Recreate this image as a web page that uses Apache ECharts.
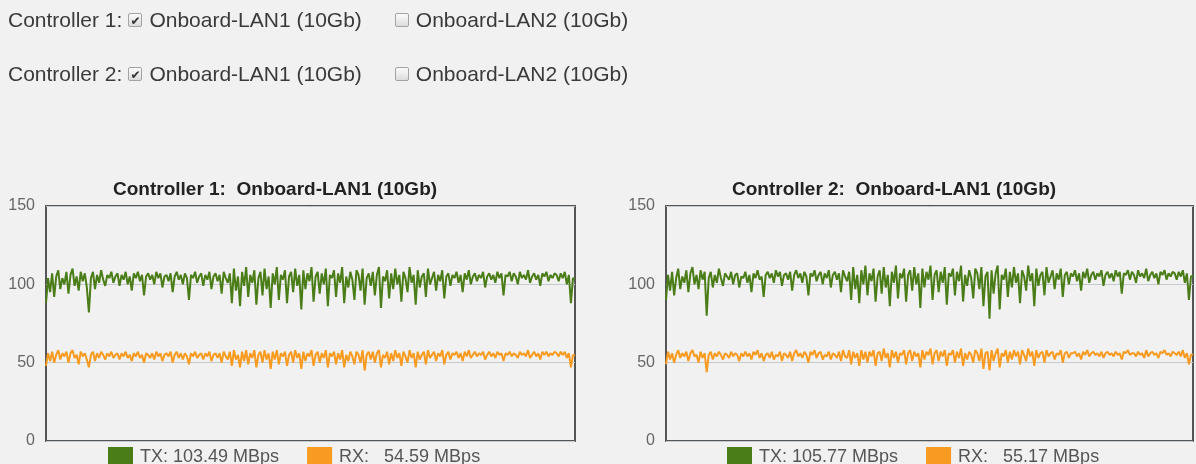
<!DOCTYPE html>
<html>
<head>
<meta charset="utf-8">
<script src="https://cdn.jsdelivr.net/npm/echarts@6/dist/echarts.min.js"></script>
<style>
  html, body { margin: 0; padding: 0; background: #f1f1f1; }
  body { width: 1196px; height: 464px; position: relative; overflow: hidden;
         font-family: "Liberation Sans", Arial, sans-serif; }
  #chart { position: absolute; left: 0; top: 0; width: 1196px; height: 464px; }
  .row { position: absolute; left: 8px; font-size: 21px; color: #3a3a3a; line-height: 22px; white-space: pre; z-index: 2; }
  .box { display: inline-block; width: 12px; height: 12px; border: 1px solid #a3a3a3; border-radius: 2px;
         background: linear-gradient(#fbfbfb, #dcdcdc); vertical-align: 0px; margin: 0 7px 0 6px;
         position: relative; }
  .box.on::after { content: "\2714"; position: absolute; left: 1px; top: -4px; font-size: 12px; color: #333;
         font-family: "DejaVu Sans", sans-serif; }
  .gap { display: inline-block; width: 27px; }
</style>
</head>
<body>
<div class="row" id="row1" style="top:9px"></div>
<div class="row" id="row2" style="top:63px"></div>
<div id="chart"></div>
<script>
// Port selector rows
const controllers = ['Controller 1', 'Controller 2'];
const ports = ['Onboard-LAN1 (10Gb)', 'Onboard-LAN2 (10Gb)'];
const portChecked = [[true, false], [true, false]];

// Y axis ticks (MBps)
const yTicks = [0, 50, 100, 150];

// Controller 1 throughput samples (MBps)
const c1Tx = [
  88,104,95,107,92,105,109,97,104,100,
  108,94,106,110,99,105,96,108,102,107,
  98,82,104,108,97,106,101,109,103,99,
  106,104,108,101,105,107,99,106,103,108,
  100,105,96,107,104,108,102,106,93,105,
  107,103,106,100,108,104,107,98,105,106,
  102,107,95,105,108,103,106,100,107,104,
  90,106,104,108,101,105,107,99,106,103,
  108,97,105,107,102,106,94,108,104,101,
  107,88,110,96,105,86,108,99,111,92,
  106,101,109,87,104,108,93,110,97,105,
  85,107,100,111,90,106,103,109,88,105,
  108,95,110,99,106,84,109,97,107,102,
  111,89,105,108,94,107,100,110,86,106,
  104,109,92,107,101,111,88,105,98,108,
  103,90,109,106,96,110,87,104,107,99,
  108,93,106,111,85,105,102,109,91,107,
  97,110,100,106,89,108,104,95,111,101,
  106,87,109,98,105,107,92,110,100,104,
  108,96,106,102,109,91,105,107,99,106,
  104,108,101,106,95,107,103,109,100,105,
  107,102,106,104,108,98,105,107,103,106,
  101,108,104,107,93,106,105,108,102,107,
  105,100,108,104,106,103,109,101,105,107,
  103,106,99,107,105,108,102,106,104,107,
  106,102,107,104,108,100,106,88,104,103.49
];
const c1Rx = [
  48,56,51,57,50,55,58,52,56,54,
  57,50,56,58,53,55,49,57,54,56,
  52,47,55,57,51,56,53,57,55,52,
  56,54,57,53,55,56,52,56,54,57,
  53,55,51,56,54,57,53,55,50,56,
  55,53,56,52,57,54,56,51,55,56,
  54,57,50,55,57,53,56,52,56,54,
  49,56,54,57,53,55,56,52,56,54,
  57,51,55,56,53,56,50,57,54,52,
  57,48,58,52,55,47,57,51,58,49,
  56,53,58,47,55,57,50,58,52,56,
  46,57,52,58,49,56,54,57,48,55,
  57,50,58,53,56,46,57,51,56,54,
  58,48,55,57,50,56,53,58,47,56,
  54,57,49,56,52,58,47,55,51,57,
  54,49,57,55,50,58,45,55,57,52,
  57,50,56,58,47,55,53,57,49,56,
  51,58,53,56,48,57,54,50,58,53,
  56,47,57,52,55,57,49,58,53,55,
  57,51,56,54,58,49,55,57,52,56,
  55,57,53,56,51,57,54,58,53,55,
  57,54,56,55,57,52,55,57,54,56,
  53,57,55,56,51,56,55,57,54,56,
  55,53,57,55,56,54,58,53,55,57,
  54,56,52,57,55,57,54,56,55,57,
  56,54,57,55,57,53,56,47,55,54.59
];

// Controller 2 throughput samples (MBps)
const c2Tx = [
  90,106,96,108,93,104,110,97,105,101,
  109,95,107,111,100,106,97,109,103,108,
  80,104,108,98,106,101,110,104,99,107,
  105,103,108,100,106,107,98,105,104,108,
  101,106,95,107,104,109,103,105,92,106,
  108,104,107,101,109,105,108,99,106,107,
  103,108,96,106,109,104,107,101,108,105,
  93,107,105,109,102,106,108,100,107,104,
  109,98,106,108,103,107,95,109,105,102,
  108,90,111,97,106,88,109,100,112,93,
  107,102,110,89,105,109,94,111,98,106,
  86,108,101,112,91,107,104,110,89,106,
  109,96,111,100,107,85,110,98,108,103,
  112,90,106,109,95,108,101,111,87,107,
  105,110,93,108,102,112,89,106,99,109,
  104,91,110,107,97,111,86,105,108,78,
  109,94,107,112,84,106,103,110,92,108,
  98,111,101,107,88,109,105,96,112,102,
  107,86,110,99,106,108,93,111,101,105,
  109,97,107,103,110,92,106,108,100,107,
  105,109,102,107,96,108,104,110,101,106,
  108,103,107,105,109,99,106,108,104,107,
  102,109,105,108,94,107,106,109,103,108,
  106,101,109,105,107,104,110,102,106,108,
  104,107,100,108,106,109,103,107,105,108,
  107,103,108,105,109,101,107,90,105,105.77
];
const c2Rx = [
  49,57,52,56,50,55,58,53,56,54,
  57,51,56,58,54,55,50,57,53,56,
  44,55,57,52,56,54,57,55,52,56,
  55,53,57,54,56,55,51,56,54,57,
  54,56,52,57,55,58,53,56,51,55,
  56,53,57,52,55,54,57,51,56,55,
  53,57,51,56,58,54,56,53,57,55,
  50,57,55,58,53,56,57,52,55,54,
  57,52,56,55,53,57,51,58,54,53,
  58,49,57,53,56,48,58,52,57,50,
  57,54,58,48,56,57,51,59,53,56,
  47,58,53,57,50,56,55,58,49,56,
  58,51,57,54,56,47,58,52,57,55,
  59,49,56,58,51,57,54,58,48,56,
  55,58,50,57,53,59,48,56,52,57,
  55,50,58,56,51,59,46,56,57,45,
  58,51,56,59,47,56,54,58,50,57,
  52,58,54,57,49,58,55,51,59,54,
  57,48,58,53,56,57,50,58,54,56,
  57,52,56,55,58,50,56,57,53,56,
  56,57,54,56,52,57,55,58,54,56,
  57,55,56,54,57,53,56,57,55,56,
  54,57,55,56,52,57,56,58,55,56,
  56,54,57,55,56,53,58,54,56,57,
  55,56,53,57,56,58,55,56,54,57,
  56,55,57,54,58,53,56,49,55,55.17
];

// Build the selector rows as text with drawn checkboxes
controllers.forEach((ctrl, ci) => {
  const row = document.getElementById('row' + (ci + 1));
  let html = ctrl + ':';
  ports.forEach((p, pi) => {
    if (pi > 0) html += '<span class="gap"></span>';
    html += '<span class="box' + (portChecked[ci][pi] ? ' on' : '') + '"></span>' + p;
  });
  row.innerHTML = html;
});

const TX_COLOR = '#4a7d17';
const RX_COLOR = '#f89b20';
const FONT = '"Liberation Sans", Arial, sans-serif';

const panels = [
  { title: 'Controller 1:  Onboard-LAN1 (10Gb)', tx: c1Tx, rx: c1Rx, left: 46, width: 529, titleLeft: 113, legendLeft: 108 },
  { title: 'Controller 2:  Onboard-LAN1 (10Gb)', tx: c2Tx, rx: c2Rx, left: 666, width: 527, titleLeft: 732, legendLeft: 727 }
];

const last = arr => arr[arr.length - 1];
const labelFor = {};
panels.forEach((p, i) => {
  labelFor['tx' + i] = 'TX: ' + last(p.tx).toFixed(2) + ' MBps';
  labelFor['rx' + i] = 'RX:   ' + last(p.rx).toFixed(2) + ' MBps';
});

const chart = echarts.init(document.getElementById('chart'), null, { renderer: 'canvas' });

chart.setOption({
  backgroundColor: 'transparent',
  animation: false,
  title: panels.map(p => ({
    text: p.title, left: p.titleLeft, top: 180, padding: 0,
    textStyle: { fontFamily: FONT, fontSize: 19, fontWeight: 'bold', color: '#222' }
  })),
  legend: panels.map((p, i) => ({
    left: p.legendLeft, top: 447, padding: 0,
    icon: 'rect', itemWidth: 25, itemHeight: 20, itemGap: 28,
    selectedMode: false,
    data: ['tx' + i, 'rx' + i],
    formatter: name => labelFor[name],
    textStyle: { fontFamily: FONT, fontSize: 18, color: '#555', padding: [0, 0, 0, 2] }
  })),
  grid: panels.map(p => ({
    left: p.left, top: 206, width: p.width, height: 235,
    show: true, borderColor: '#555', borderWidth: 2, backgroundColor: 'transparent'
  })),
  xAxis: panels.map((p, i) => ({
    type: 'category', gridIndex: i, boundaryGap: false,
    data: p.tx.map((_, k) => k), show: false
  })),
  yAxis: panels.map((p, i) => ({
    type: 'value', gridIndex: i,
    min: yTicks[0], max: yTicks[yTicks.length - 1], interval: yTicks[1] - yTicks[0],
    axisLine: { show: false }, axisTick: { show: false },
    axisLabel: { color: '#666', fontFamily: FONT, fontSize: 16, margin: 11 },
    splitLine: { show: true, lineStyle: { color: '#c3cbd1', width: 1 } }
  })),
  series: panels.flatMap((p, i) => [
    { name: 'tx' + i, type: 'line', xAxisIndex: i, yAxisIndex: i, data: p.tx,
      showSymbol: false, symbol: 'none', color: TX_COLOR,
      lineStyle: { color: TX_COLOR, width: 2 } },
    { name: 'rx' + i, type: 'line', xAxisIndex: i, yAxisIndex: i, data: p.rx,
      showSymbol: false, symbol: 'none', color: RX_COLOR,
      lineStyle: { color: RX_COLOR, width: 2 } }
  ])
});
</script>
</body>
</html>
